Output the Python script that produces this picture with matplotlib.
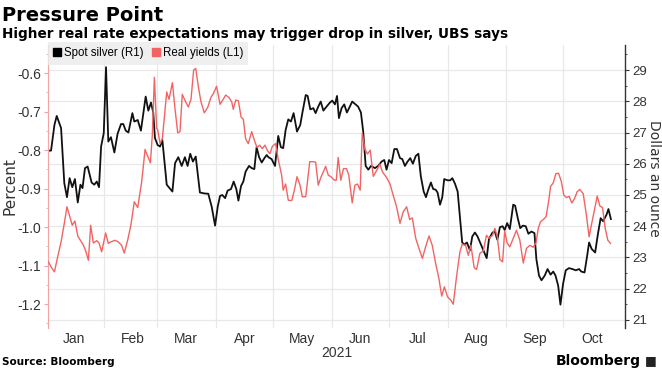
import numpy as np
import matplotlib
matplotlib.use("Agg")
import matplotlib.pyplot as plt
import matplotlib.dates as mdates
from matplotlib.lines import Line2D
from matplotlib.ticker import MultipleLocator

# days since 2021-01-01 and values
silver_day = [1.5, 2.9, 4.7, 5.9, 8.2, 9.9, 11.3, 12.7, 14.1, 15.5, 17.0, 18.4, 19.5, 20.8, 22.2,
              24.3, 25.7, 27.0, 28.2, 29.3, 30.7, 31.9, 33.1, 34.5, 36.3, 38.0, 39.8, 41.0, 42.3,
              43.7, 45.8, 46.8, 48.6, 50.3, 52.8, 54.2, 55.6, 56.8, 57.7, 59.1, 60.4, 61.6, 63.9,
              66.9, 68.3, 70.0, 71.8, 73.5, 74.9, 76.3, 77.7, 79.2, 81.4, 83.7, 85.8, 87.6, 89.4,
              90.8, 92.0, 93.2, 94.7, 96.0, 97.8, 99.2, 100.6, 101.7, 103.1, 104.3, 105.5, 107.3,
              108.7, 110.1, 111.3, 112.6, 114.0, 115.4, 116.6, 117.5, 119.2, 121.0, 122.7, 124.1,
              125.3, 126.6, 128.0, 129.4, 130.8, 132.6, 134.3, 135.4, 137.2, 138.2, 139.6, 141.2,
              142.4, 143.8, 145.1, 146.5, 148.2, 150.0, 151.2, 152.6, 153.7, 154.7, 156.1, 157.5,
              158.9, 160.3, 161.7, 163.4, 164.8, 166.3, 167.5, 168.8, 170.2, 171.6, 173.7, 175.4,
              177.2, 178.6, 179.8, 181.1, 182.5, 183.9, 185.3, 186.9, 188.1, 189.5, 190.9, 192.3,
              193.7, 195.2, 196.6, 197.9, 199.4, 200.6, 201.8, 203.2, 204.4, 205.7, 206.7, 208.0,
              209.2, 210.2, 212.0, 213.4, 214.5, 215.9, 217.3, 218.5, 219.7, 220.8, 222.2, 223.8,
              225.0, 226.4, 227.8, 229.6, 231.3, 232.6, 233.8, 235.7, 236.9, 238.2, 239.6, 241.0,
              242.1, 243.4, 244.8, 246.6, 247.6, 249.1, 250.3, 251.7, 253.2, 254.6, 256.2, 257.8,
              258.8, 260.2, 261.5, 263.2, 264.7, 266.3, 267.7, 268.9, 270.3, 271.5, 272.9, 274.3,
              276.0, 277.8, 279.6, 281.3, 282.5, 284.2, 285.6, 286.6, 288.0, 289.8, 291.2, 292.7,
              294.0, 295.8, 296.8, 298.1]
silver = [26.42, 26.42, 27.24, 27.53, 27.14, 25.38, 24.93, 25.54, 25.25, 25.51, 24.76, 25.33, 25.22,
          25.86, 25.91, 25.40, 25.33, 25.43, 25.25, 26.55, 26.98, 29.09, 26.71, 26.85, 26.36, 26.96,
          27.27, 27.27, 27.06, 27.00, 27.62, 27.35, 27.40, 27.06, 28.15, 27.70, 27.96, 27.64, 26.82,
          26.60, 26.55, 26.76, 25.33, 25.11, 26.02, 26.21, 25.93, 26.21, 25.93, 26.32, 26.07, 26.23,
          25.08, 25.05, 25.04, 24.63, 24.02, 24.63, 24.97, 25.00, 24.90, 25.14, 25.19, 25.43, 25.19,
          24.82, 25.29, 25.43, 25.75, 25.93, 25.86, 25.83, 26.53, 26.21, 26.04, 26.18, 26.28, 26.21,
          26.15, 25.93, 26.89, 26.53, 26.50, 27.08, 27.42, 27.35, 27.62, 27.03, 27.24, 27.62, 28.20,
          28.17, 27.74, 27.78, 27.62, 27.83, 27.99, 27.70, 27.83, 27.96, 28.02, 27.90, 28.17, 27.46,
          27.78, 27.90, 27.64, 27.81, 27.99, 27.90, 27.83, 27.64, 27.03, 25.93, 25.81, 25.93, 25.86,
          25.93, 26.07, 26.12, 25.81, 26.12, 26.02, 26.47, 26.47, 26.18, 26.15, 25.93, 26.07, 26.18,
          26.00, 26.25, 26.32, 25.59, 25.11, 24.93, 25.17, 25.40, 25.19, 25.17, 25.08, 24.69, 24.93,
          25.51, 25.47, 25.47, 25.54, 25.36, 25.11, 24.31, 23.48, 23.41, 23.48, 23.23, 23.67, 23.80,
          23.67, 23.41, 23.16, 22.98, 23.59, 23.80, 23.83, 23.57, 23.97, 24.00, 23.88, 24.10, 23.91,
          24.69, 24.66, 24.23, 23.94, 24.02, 24.00, 23.76, 23.83, 23.78, 22.95, 22.42, 22.27, 22.42,
          22.63, 22.45, 22.55, 22.42, 22.10, 21.49, 22.16, 22.59, 22.66, 22.63, 22.59, 22.63, 22.55,
          22.52, 23.06, 23.48, 23.27, 23.16, 23.73, 24.26, 24.16, 24.37, 24.55, 24.23]

yield_day = [1.5, 2.9, 4.7, 6.4, 8.2, 9.9, 11.3, 12.7, 14.1, 15.5, 17.0, 18.4, 20.0, 21.2, 22.6,
             23.8, 25.2, 27.0, 28.2, 29.6, 31.7, 33.1, 34.5, 36.6, 38.3, 40.1, 41.5, 43.3, 45.0,
             46.8, 48.6, 50.7, 52.5, 53.9, 55.3, 56.3, 57.4, 58.6, 59.1, 60.4, 61.6, 63.9, 65.1,
             66.9, 68.3, 69.7, 70.9, 72.1, 73.9, 75.3, 76.7, 78.1, 79.2, 80.6, 82.0, 83.7, 85.5,
             87.2, 88.5, 90.2, 92.0, 93.7, 95.0, 96.7, 98.2, 99.0, 100.3, 101.7, 103.1, 104.3,
             105.5, 106.9, 108.7, 110.1, 111.5, 112.9, 114.3, 115.7, 117.1, 118.3, 119.6, 121.3,
             122.7, 124.5, 125.3, 126.6, 128.0, 129.8, 131.2, 132.6, 134.2, 135.4, 137.2, 139.3,
             141.2, 142.4, 143.8, 145.3, 146.5, 147.7, 149.1, 150.5, 152.3, 153.3, 154.3, 155.7,
             157.1, 158.7, 159.9, 161.7, 163.1, 164.5, 165.9, 167.0, 168.4, 169.8, 171.2, 172.8,
             175.1, 176.3, 177.6, 179.8, 181.6, 183.3, 185.1, 186.9, 188.6, 190.4, 192.0, 193.4,
             195.2, 196.9, 198.7, 200.4, 202.2, 203.9, 205.7, 207.4, 208.9, 210.3, 212.0, 213.8,
             215.0, 216.7, 218.5, 219.7, 221.5, 222.9, 224.3, 226.0, 227.3, 229.0, 230.8, 232.5,
             233.8, 235.7, 236.9, 238.2, 239.6, 241.0, 242.1, 243.4, 244.8, 246.6, 248.3, 250.1,
             251.9, 253.6, 255.4, 257.1, 258.6, 259.8, 261.0, 262.5, 263.9, 265.3, 266.3, 267.7,
             269.1, 270.5, 271.9, 273.3, 274.7, 276.1, 277.5, 278.9, 280.3, 281.7, 283.5, 285.2,
             286.6, 288.0, 289.5, 290.9, 292.3, 293.7, 295.1, 296.5, 297.9]
real_yield = [-1.090, -1.103, -1.116, -1.077, -1.038, -0.990, -0.947, -0.971, -0.995, -0.984,
              -1.023, -1.034, -1.047, -1.062, -1.086, -0.995, -1.041, -1.035, -1.041, -1.064,
              -1.015, -1.042, -1.038, -1.034, -1.038, -1.047, -1.067, -1.034, -0.995, -0.934,
              -0.949, -0.882, -0.798, -0.816, -0.833, -0.761, -0.611, -0.744, -0.746, -0.783,
              -0.770, -0.649, -0.668, -0.625, -0.694, -0.755, -0.752, -0.655, -0.675, -0.688,
              -0.668, -0.592, -0.588, -0.636, -0.675, -0.703, -0.689, -0.663, -0.653, -0.634,
              -0.681, -0.668, -0.657, -0.663, -0.675, -0.694, -0.670, -0.672, -0.714, -0.720,
              -0.770, -0.783, -0.752, -0.774, -0.793, -0.787, -0.796, -0.787, -0.802, -0.809,
              -0.790, -0.783, -0.824, -0.865, -0.904, -0.888, -0.930, -0.931, -0.904, -0.869,
              -0.891, -0.921, -0.921, -0.830, -0.830, -0.831, -0.891, -0.869, -0.856, -0.842,
              -0.865, -0.869, -0.878, -0.878, -0.819, -0.878, -0.848, -0.848, -0.865, -0.937,
              -0.891, -0.888, -0.904, -0.755, -0.798, -0.810, -0.800, -0.868, -0.848, -0.836,
              -0.856, -0.871, -0.887, -0.917, -0.947, -0.990, -0.960, -0.947, -0.980, -0.976,
              -1.029, -1.055, -1.081, -1.051, -1.023, -1.047, -1.094, -1.133, -1.179, -1.155,
              -1.181, -1.190, -1.200, -1.129, -1.064, -1.044, -1.047, -1.073, -1.047, -1.105,
              -1.110, -1.068, -1.062, -1.021, -1.029, -1.021, -1.003, -1.025, -1.084, -1.090,
              -1.010, -1.041, -1.051, -1.029, -1.008, -1.034, -1.093, -1.055, -1.047, -1.052,
              -1.041, -1.003, -0.986, -0.980, -0.973, -0.932, -0.894, -0.885, -0.861, -0.860,
              -0.880, -0.917, -0.923, -0.920, -0.937, -0.926, -0.908, -0.902, -0.913, -0.969,
              -1.025, -0.990, -0.954, -0.919, -0.945, -0.949, -1.003, -1.034, -1.042]

month_labels = ["Jan", "Feb", "Mar", "Apr", "May", "Jun", "Jul", "Aug", "Sep", "Oct"]

RED = "#f26464"
PINK = "#f4a3a3"
GRID = "#e8e8e8"
TXT = "#333333"

plt.rcParams["font.family"] = ["Liberation Sans Narrow", "Liberation Sans", "DejaVu Sans"]
HEAD = ["DejaVu Sans"]

start = np.datetime64("2021-01-01")
to_num = lambda days: mdates.date2num(start) + np.asarray(days)

fig = plt.figure(figsize=(6.62, 3.72), dpi=100)
ax = fig.add_axes([0.0725, 0.118, 0.8715, 0.761])
ax2 = ax.twinx()

ax2.plot(to_num(silver_day), silver, color="#111111", lw=1.3, zorder=3)
ax.plot(to_num(yield_day), real_yield, color=RED, lw=1.0, zorder=3)

ax.set_zorder(ax2.get_zorder() + 1)
ax.patch.set_visible(False)

ax.set_xlim(to_num(1.3), to_num(305.5))
ax.set_ylim(-1.262, -0.527)
ax2.set_ylim(20.74, 29.8)

# gridlines: months vertically, right-axis ticks horizontally
month_starts = [mdates.date2num(np.datetime64(f"2021-{m:02d}-01")) for m in range(2, 11)]
for xv in month_starts:
    ax2.axvline(xv, color=GRID, lw=0.9, zorder=0)
for yv in range(21, 30):
    ax2.axhline(yv, color=GRID, lw=0.9, zorder=0)

mids = [mdates.date2num(np.datetime64(f"2021-{m:02d}-01")) + 15 for m in range(1, 11)]
ax.set_xticks(mids)
ax.set_xticklabels(month_labels)
ax.tick_params(axis="x", length=0, pad=3, labelsize=10, colors=TXT)
ax.set_xlabel("2021", fontsize=10, color=TXT, labelpad=0)

ax.yaxis.set_major_locator(MultipleLocator(0.1))
ax.yaxis.set_minor_locator(MultipleLocator(0.05))
ax.yaxis.set_major_formatter(plt.FuncFormatter(lambda v, p: f"{v:.1f}"))
ax.tick_params(axis="y", which="major", length=3, color=PINK, labelsize=10, labelcolor=TXT, pad=2)
ax.tick_params(axis="y", which="minor", length=1.5, color=PINK)
ax.set_ylabel("Percent", fontsize=11, color=TXT, family=HEAD)
ax.yaxis.set_label_coords(-0.052, 0.5)

ax2.yaxis.set_major_locator(MultipleLocator(1))
ax2.yaxis.set_minor_locator(MultipleLocator(0.5))
ax2.tick_params(axis="y", which="major", length=3, color="#333333", labelsize=9.5, labelcolor=TXT, pad=2)
ax2.tick_params(axis="y", which="minor", length=1.5, color="#333333")
ax2.set_ylabel("Dollars an ounce", fontsize=10, color=TXT, rotation=270, family=HEAD,
               va="center", ha="center")
ax2.yaxis.set_label_coords(1.05, 0.53)

for a in (ax, ax2):
    a.spines["top"].set_visible(False)
    a.spines["bottom"].set_visible(False)
ax.spines["right"].set_visible(False)
ax2.spines["left"].set_visible(False)
ax.spines["left"].set_color(PINK)
ax2.spines["right"].set_color("#333333")
ax2.spines["right"].set_linewidth(1.0)

handles = [Line2D([], [], marker="s", ls="", color="black", markersize=5.5),
           Line2D([], [], marker="s", ls="", color=RED, markersize=5.5)]
leg = ax.legend(handles, ["Spot silver (R1)", "Real yields (L1)"], loc="upper left",
                bbox_to_anchor=(0.0, 1.01), ncol=2, frameon=True, fontsize=8.3,
                handlelength=0.7, handletextpad=0.25, columnspacing=0.7,
                borderpad=0.45, borderaxespad=0)
leg.get_frame().set_facecolor("#ececec")
leg.get_frame().set_edgecolor("none")
leg.get_frame().set_boxstyle("square", pad=0)
leg.set_zorder(5)

fig.text(0.003, 0.958, "Pressure Point", fontsize=14, fontweight="bold", color="black",
         va="center", family=HEAD)
fig.text(0.003, 0.908, "Higher real rate expectations may trigger drop in silver, UBS says",
         fontsize=9.8, fontweight="bold", color="black", va="center", family=HEAD)
fig.text(0.003, 0.026, "Source: Bloomberg", fontsize=7.5, fontweight="bold", color="black",
         va="center", family=HEAD)
fig.text(0.968, 0.03, "Bloomberg", fontsize=10, fontweight="bold", color="black", va="center",
         ha="right", family=HEAD)
fig.text(0.992, 0.032, "\u25a0", fontsize=9, color="#222222", va="center", ha="right", family=HEAD)

fig.savefig("out.png", dpi=100)
